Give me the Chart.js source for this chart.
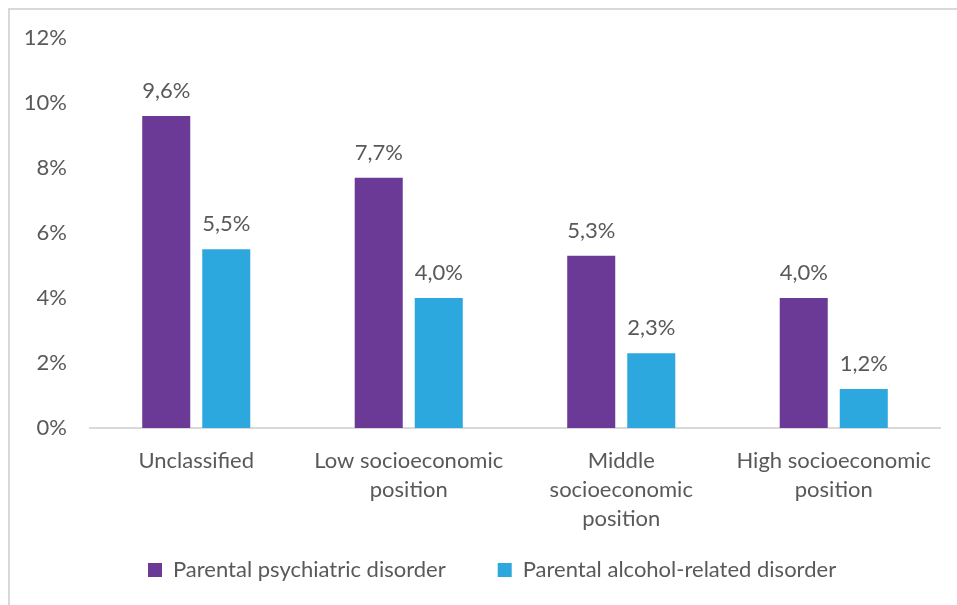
<!DOCTYPE html>
<html>
<head>
<meta charset="utf-8">
<script src="https://cdn.jsdelivr.net/npm/chart.js@4.4.1/dist/chart.umd.min.js"></script>
<style>
  html, body { margin: 0; padding: 0; background: #ffffff; }
  #wrap { position: relative; width: 957px; height: 605px; overflow: hidden; }
  #frame { position: absolute; left: 8px; top: 8px; width: 1000px; height: 700px;
           border-left: 2px solid #d9d9d9; border-top: 2px solid #d9d9d9; }
  canvas { position: absolute; left: 0; top: 0; }
</style>
</head>
<body>
<div id="wrap">
  <div id="frame"></div>
  <canvas id="c" width="957" height="605"></canvas>
</div>
<script>
// ---- data ----
const categories = [
  ['Unclassified'],
  ['Low socioeconomic', 'position'],
  ['Middle', 'socioeconomic', 'position'],
  ['High socioeconomic', 'position']
];
const seriesNames = ['Parental psychiatric disorder', 'Parental alcohol-related disorder'];
const psychiatric = [9.6, 7.7, 5.3, 4.0];
const alcohol = [5.5, 4.0, 2.3, 1.2];
const yTicks = [0, 2, 4, 6, 8, 10, 12];

const FONT = 'Lato, "Open Sans", sans-serif';
const FS = 22;
const TEXT = '#595959';
const LEGEND_PAD = 52;

const fmt = v => v.toFixed(1).replace('.', ',') + '%';

const dataLabels = {
  id: 'dataLabels',
  afterDatasetsDraw(chart) {
    const ctx = chart.ctx;
    ctx.save();
    ctx.font = FS + 'px ' + FONT;
    ctx.fillStyle = TEXT;
    ctx.textAlign = 'center';
    ctx.textBaseline = 'alphabetic';
    chart.data.datasets.forEach((ds, i) => {
      const meta = chart.getDatasetMeta(i);
      meta.data.forEach((el, j) => {
        ctx.fillText(fmt(ds.data[j]), el.x, el.y - 18);
      });
    });
    ctx.restore();
  }
};

// wide spacing between legend items without reserving that spacing vertically
const legendPlacement = {
  id: 'legendPlacement',
  afterInit(chart) {
    const lg = chart.legend;
    if (!lg) return;
    const orig = lg.fit.bind(lg);
    lg.fit = function () { orig(); this.height = 67; };
  },
  afterLayout(chart) {
    const lg = chart.legend;
    if (!lg) return;
    const top = 570 - LEGEND_PAD - FS / 2;
    lg.top = top;
    lg.bottom = chart.height;
    lg.height = lg.bottom - lg.top;
    lg.left = 148 - LEGEND_PAD;
  }
};

new Chart(document.getElementById('c'), {
  type: 'bar',
  data: {
    labels: categories,
    datasets: [
      { label: seriesNames[0], data: psychiatric, backgroundColor: '#6b3a97',
        barPercentage: 0.8, categoryPercentage: 0.565 },
      { label: seriesNames[1], data: alcohol, backgroundColor: '#2ca8df',
        barPercentage: 0.8, categoryPercentage: 0.565 }
    ]
  },
  plugins: [dataLabels, legendPlacement],
  options: {
    responsive: false,
    animation: false,
    devicePixelRatio: 1,
    layout: { padding: { left: 0, right: 17, top: 38, bottom: 0 } },
    plugins: {
      legend: {
        position: 'bottom',
        align: 'start',
        labels: {
          boxWidth: 14, boxHeight: 14, padding: LEGEND_PAD,
          color: TEXT, font: { family: FONT, size: FS }
        }
      },
      tooltip: { enabled: false }
    },
    scales: {
      x: {
        grid: { display: false, drawTicks: false },
        border: { display: true, color: '#d9d9d9', width: 2 },
        ticks: {
          color: TEXT, font: { family: FONT, size: FS, lineHeight: 1.318 },
          padding: 18, maxRotation: 0, autoSkip: false
        },
        afterFit(scale) { scale.height = 110; }
      },
      y: {
        min: 0, max: 12,
        grid: { display: false, drawTicks: false },
        border: { display: false },
        afterBuildTicks(scale) { scale.ticks = yTicks.map(v => ({ value: v })); },
        ticks: {
          color: TEXT, font: { family: FONT, size: FS }, padding: 23,
          callback: v => v + '%'
        },
        afterFit(scale) { scale.width = 90; }
      }
    }
  }
});
</script>
</body>
</html>
